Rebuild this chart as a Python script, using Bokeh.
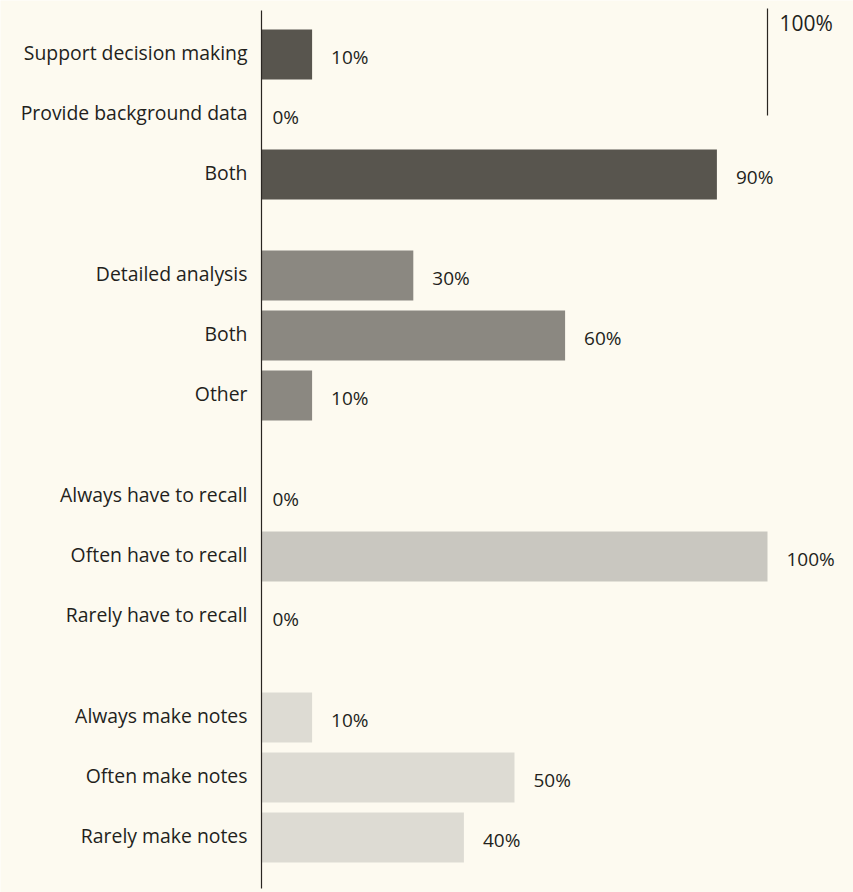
from bokeh.plotting import figure
from bokeh.models import Range1d, ColumnDataSource
from bokeh.core.properties import value
from bokeh.embed import file_html
from bokeh.resources import INLINE

# ---- data ----
group1_labels = ["Support decision making", "Provide background data", "Both"]
group1_values = [10, 0, 90]
group2_labels = ["Detailed analysis", "Both", "Other"]
group2_values = [30, 60, 10]
group3_labels = ["Always have to recall", "Often have to recall", "Rarely have to recall"]
group3_values = [0, 100, 0]
group4_labels = ["Always make notes", "Often make notes", "Rarely make notes"]
group4_values = [10, 50, 40]
scale_value = 100
scale_label = "100%"

groups = [(group1_labels, group1_values), (group2_labels, group2_values),
          (group3_labels, group3_values), (group4_labels, group4_values)]
group_colors = ["#58554e", "#8b8881", "#c9c7c0", "#dddbd3"]

BG = "#fdfaf0"
TXT = "#231f1c"
FONT = "Open Sans"

W, H = 853, 892
px_per_unit = 5.06
x0_px = 261

p = figure(width=W, height=H, output_backend="svg", toolbar_location=None,
           x_range=Range1d(-x0_px / px_per_unit, (W - x0_px) / px_per_unit),
           y_range=Range1d(H, 0), min_border=0, min_border_left=0,
           min_border_right=0, min_border_top=0, min_border_bottom=0)
p.axis.visible = False
p.grid.visible = False
p.outline_line_color = None
p.background_fill_color = BG
p.border_fill_color = BG

# compute row layout
ys, vals, labs, cols, offs, vtxt = [], [], [], [], [], []
row_step, group_gap, top = 60, 41, 54
for g, (labels, values) in enumerate(groups):
    for i, (lab, v) in enumerate(zip(labels, values)):
        y = top + (g * 3 + i) * row_step + g * group_gap
        ys.append(y)
        vals.append(v)
        labs.append(lab)
        cols.append(group_colors[g])
        offs.append(11 if v == 0 else 19)
        vtxt.append(f"{v}%")

src = ColumnDataSource(dict(y=ys, v=vals, lab=labs, col=cols, off=offs, vt=vtxt, zero=[0] * len(ys)))

p.hbar(y="y", left=0, right="v", height=50, fill_color="col", line_color=None, source=src)

# axis line
p.segment(x0=[0], x1=[0], y0=[10], y1=[888], line_color="#2a2622", line_width=1.2)

# category labels
p.text(x="zero", y="y", text="lab", source=src, x_offset=-14, y_offset=-2, text_align="right",
       text_baseline="middle", text_font=value(FONT), text_font_size="19.4px", text_color=TXT)

# value labels
p.text(x="v", y="y", text="vt", source=src, x_offset="off", y_offset=2, text_align="left",
       text_baseline="middle", text_font=value(FONT), text_font_size="19px", text_color=TXT)

# 100% scale marker
p.segment(x0=[scale_value], x1=[scale_value], y0=[8], y1=[115], line_color="#2a2622", line_width=1.2)
p.text(x=[scale_value], y=[22], text=[scale_label], x_offset=12, text_align="left",
       text_baseline="middle", text_font=value(FONT), text_font_size="21px", text_color=TXT)

open("out.html", "w").write(file_html(p, INLINE))
